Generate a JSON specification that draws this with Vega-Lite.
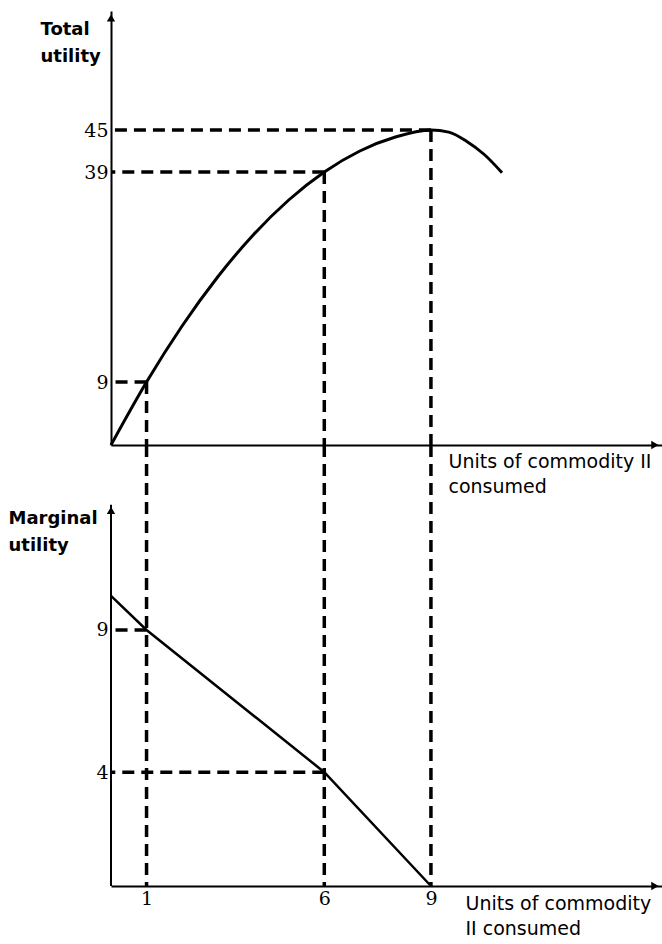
{
  "$schema": "https://vega.github.io/schema/vega-lite/v6.json",
  "background": "white",
  "padding": {"left": 8, "top": 11, "right": 0, "bottom": 5},
  "autosize": {"type": "pad"},
  "config": {"view": {"stroke": null}, "concat": {"spacing": 0}},
  "bounds": "flush",
  "spacing": 0,
  "datasets": {
    "tu_curve": [
      {"u": 0, "tu": 0}, {"u": 1, "tu": 9}, {"u": 2, "tu": 17}, {"u": 3, "tu": 24},
      {"u": 4, "tu": 30}, {"u": 5, "tu": 35}, {"u": 6, "tu": 39}, {"u": 7, "tu": 42},
      {"u": 8, "tu": 44}, {"u": 9, "tu": 45}, {"u": 9.5, "tu": 44.7}, {"u": 10, "tu": 43.4},
      {"u": 10.5, "tu": 41.5}, {"u": 11, "tu": 38.9}
    ],
    "tu_marks": [{"u": 1, "tu": 9}, {"u": 6, "tu": 39}, {"u": 9, "tu": 45}],
    "mu_line": [{"u": 0, "mu": 10.2}, {"u": 1, "mu": 9}, {"u": 6, "mu": 4}, {"u": 9, "mu": 0}],
    "mu_marks": [{"u": 1, "mu": 9}, {"u": 6, "mu": 4}],
    "units": [{"u": 1}, {"u": 6}, {"u": 9}],
    "one": [{"k": 1}]
  },
  "vconcat": [
    {
      "width": 551,
      "height": 434,
      "layer": [
        {
          "data": {"name": "tu_curve"},
          "mark": {"type": "line", "interpolate": "monotone", "color": "black", "strokeWidth": 3},
          "encoding": {
            "x": {
              "field": "u", "type": "quantitative",
              "scale": {"domain": [0, 15.5], "nice": false, "zero": true},
              "axis": {
                "title": ["Units of commodity II", "consumed"],
                "labels": false, "ticks": false, "grid": false,
                "domain": true, "domainColor": "black", "domainWidth": 2,
                "titleAnchor": "start", "titleAlign": "left", "titleBaseline": "top",
                "titleX": 337, "titleY": 7,
                "titleFont": "DejaVu Sans", "titleFontSize": 19, "titleFontWeight": "normal",
                "titleLineHeight": 25, "titleColor": "black"
              }
            },
            "y": {
              "field": "tu", "type": "quantitative",
              "scale": {"domain": [0, 62], "nice": false},
              "axis": {
                "title": ["Total", "utility"],
                "values": [9, 39, 45],
                "ticks": false, "grid": false, "labelPadding": 3,
                "labelFont": "DejaVu Serif", "labelFontSize": 19, "labelColor": "black",
                "domain": true, "domainColor": "black", "domainWidth": 2,
                "titleAngle": 0, "titleAlign": "left", "titleBaseline": "top",
                "titleX": -71, "titleY": 9,
                "titleFont": "DejaVu Sans", "titleFontWeight": "bold", "titleFontSize": 18,
                "titleLineHeight": 27, "titleColor": "black"
              }
            }
          }
        },
        {
          "data": {"name": "tu_marks"},
          "mark": {"type": "rule", "color": "black", "strokeWidth": 3.5, "strokeDash": [12, 7]},
          "encoding": {
            "x": {"field": "u", "type": "quantitative"},
            "y": {"field": "tu", "type": "quantitative"},
            "y2": {"datum": 0}
          }
        },
        {
          "data": {"name": "tu_marks"},
          "mark": {"type": "rule", "color": "black", "strokeWidth": 3.5, "strokeDash": [12, 7]},
          "encoding": {
            "x": {"field": "u", "type": "quantitative"},
            "x2": {"datum": 0},
            "y": {"field": "tu", "type": "quantitative"}
          }
        },
        {
          "data": {"name": "one"},
          "mark": {"type": "point", "shape": "triangle-up", "filled": true, "color": "black", "opacity": 1, "size": 70},
          "encoding": {"x": {"datum": 0, "type": "quantitative"}, "y": {"datum": 61, "type": "quantitative"}}
        },
        {
          "data": {"name": "one"},
          "mark": {"type": "point", "shape": "triangle-right", "filled": true, "color": "black", "opacity": 1, "size": 70},
          "encoding": {"x": {"datum": 15.3, "type": "quantitative"}, "y": {"datum": 0, "type": "quantitative"}}
        }
      ]
    },
    {
      "width": 551,
      "height": 441,
      "layer": [
        {
          "data": {"name": "mu_line"},
          "mark": {"type": "line", "color": "black", "strokeWidth": 2.5},
          "encoding": {
            "x": {
              "field": "u", "type": "quantitative",
              "scale": {"domain": [0, 15.5], "nice": false, "zero": true},
              "axis": {
                "title": ["Units of commodity", "II consumed"],
                "values": [1, 6, 9],
                "ticks": false, "grid": false, "labelPadding": 3,
                "labelFont": "DejaVu Serif", "labelFontSize": 19, "labelColor": "black",
                "domain": true, "domainColor": "black", "domainWidth": 2,
                "titleAnchor": "start", "titleAlign": "left", "titleBaseline": "top",
                "titleX": 354, "titleY": 8,
                "titleFont": "DejaVu Sans", "titleFontSize": 19, "titleFontWeight": "normal",
                "titleLineHeight": 25, "titleColor": "black"
              }
            },
            "y": {
              "field": "mu", "type": "quantitative",
              "scale": {"domain": [0, 15.5], "nice": false},
              "axis": {
                "title": ["Marginal", "utility"],
                "values": [4, 9],
                "ticks": false, "grid": false, "labelPadding": 3,
                "labelFont": "DejaVu Serif", "labelFontSize": 19, "labelColor": "black",
                "domain": false,
                "titleAngle": 0, "titleAlign": "left", "titleBaseline": "top",
                "titleX": -103, "titleY": 64,
                "titleFont": "DejaVu Sans", "titleFontWeight": "bold", "titleFontSize": 18,
                "titleLineHeight": 27, "titleColor": "black"
              }
            }
          }
        },
        {
          "data": {"name": "units"},
          "mark": {"type": "rule", "color": "black", "strokeWidth": 3.5, "strokeDash": [12, 7]},
          "encoding": {"x": {"field": "u", "type": "quantitative"}}
        },
        {
          "data": {"name": "mu_marks"},
          "mark": {"type": "rule", "color": "black", "strokeWidth": 3.5, "strokeDash": [12, 7]},
          "encoding": {
            "x": {"field": "u", "type": "quantitative"},
            "x2": {"datum": 0},
            "y": {"field": "mu", "type": "quantitative"}
          }
        },
        {
          "data": {"name": "one"},
          "mark": {"type": "rule", "color": "black", "strokeWidth": 2},
          "encoding": {"x": {"datum": 0, "type": "quantitative"}, "y": {"datum": 0, "type": "quantitative"}, "y2": {"datum": 13.4}}
        },
        {
          "data": {"name": "one"},
          "mark": {"type": "point", "shape": "triangle-up", "filled": true, "color": "black", "opacity": 1, "size": 70},
          "encoding": {"x": {"datum": 0, "type": "quantitative"}, "y": {"datum": 13.2, "type": "quantitative"}}
        },
        {
          "data": {"name": "one"},
          "mark": {"type": "point", "shape": "triangle-right", "filled": true, "color": "black", "opacity": 1, "size": 70},
          "encoding": {"x": {"datum": 15.3, "type": "quantitative"}, "y": {"datum": 0, "type": "quantitative"}}
        }
      ]
    }
  ]
}
